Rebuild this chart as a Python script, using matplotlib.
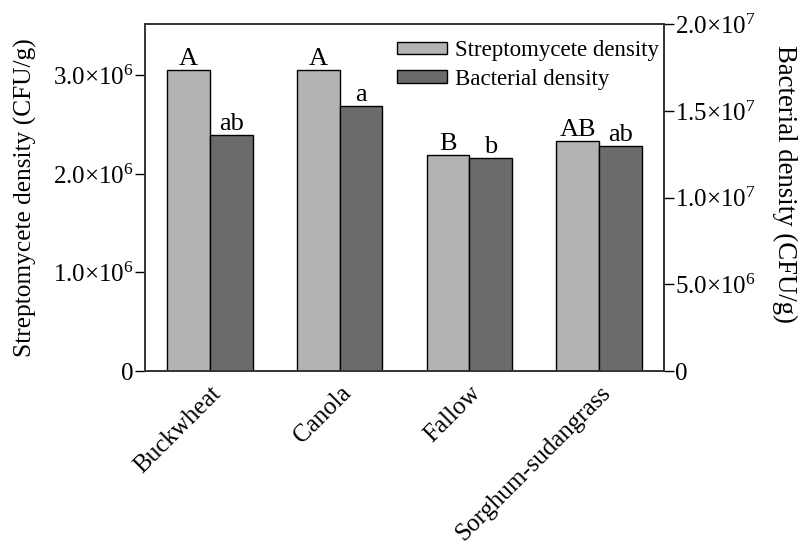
import numpy as np
import matplotlib.pyplot as plt

plt.rcParams['font.family'] = 'Liberation Serif'
plt.rcParams['mathtext.fontset'] = 'custom'
plt.rcParams['mathtext.rm'] = 'Liberation Serif'
plt.rcParams['mathtext.it'] = 'Liberation Serif:italic'

crops = ['Buckwheat', 'Canola', 'Fallow', 'Sorghum-sudangrass']
strepto = [3.05e6, 3.05e6, 2.19e6, 2.33e6]
bacteria = [1.36e7, 1.53e7, 1.23e7, 1.30e7]
strepto_letters = ['A', 'A', 'B', 'AB']
bacteria_letters = ['ab', 'a', 'b', 'ab']

left_ticks = [0, 1.0e6, 2.0e6, 3.0e6]
left_ticklabels = ['0', r'$1.0{\times}10^{6}$', r'$2.0{\times}10^{6}$', r'$3.0{\times}10^{6}$']
right_ticks = [0, 5.0e6, 1.0e7, 1.5e7, 2.0e7]
right_ticklabels = ['0', r'$5.0{\times}10^{6}$', r'$1.0{\times}10^{7}$',
                    r'$1.5{\times}10^{7}$', r'$2.0{\times}10^{7}$']

light = '#b3b3b3'
dark = '#6b6b6b'
w = 0.33

fig = plt.figure(figsize=(8.04, 5.49), dpi=100)
ax = fig.add_axes([0.1803, 0.3242, 0.6457, 0.6318])
ax2 = ax.twinx()

x = np.arange(len(crops))
b1 = ax.bar(x - w / 2, strepto, w, color=light, edgecolor='black', linewidth=1.0,
            label='Streptomycete density')
b2 = ax2.bar(x + w / 2, bacteria, w, color=dark, edgecolor='black', linewidth=1.0,
             label='Bacterial density')

ax.set_xlim(-0.5, 3.5)
ax.set_ylim(0, 3.52e6)
ax2.set_ylim(0, 2.0e7)

ax.set_yticks(left_ticks)
ax.set_yticklabels(left_ticklabels, fontsize=18)
ax2.set_yticks(right_ticks)
ax2.set_yticklabels(right_ticklabels, fontsize=18)
ax.set_xticks(x)
ax.set_xticklabels(crops, rotation=45, ha='right', rotation_mode='anchor', fontsize=18)
ax.tick_params(axis='x', length=0, pad=8)
ax.tick_params(axis='y', length=7, width=1.0, pad=1)
ax2.tick_params(axis='y', length=7, width=1.0, pad=1)

for a in (ax, ax2):
    for s in a.spines.values():
        s.set_linewidth(1.2)
        s.set_color('#333333')

ax.set_ylabel('Streptomycete density (CFU/g)', fontsize=18.3, va='center')
ax.yaxis.set_label_coords(-0.231, 0.5)
ax2.set_ylabel('Bacterial density (CFU/g)', fontsize=19.3, rotation=270, va='center')
ax2.yaxis.set_label_coords(1.233, 0.539)

# significance letters
for xi, v, t in zip(x, strepto, strepto_letters):
    ax.text(xi - w / 2, v, t, ha='center', va='bottom', fontsize=19)
for xi, v, t in zip(x, bacteria, bacteria_letters):
    ax2.text(xi + w / 2, v, t, ha='center', va='bottom', fontsize=19)

ax2.legend([b1, b2], ['Streptomycete density', 'Bacterial density'],
           loc='upper right', frameon=False, fontsize=16.5,
           handlelength=2.2, handleheight=0.45, handletextpad=0.35,
           labelspacing=0.33, borderaxespad=0.3, bbox_to_anchor=(1.022, 1.0))

fig.savefig('out.png', dpi=100)
